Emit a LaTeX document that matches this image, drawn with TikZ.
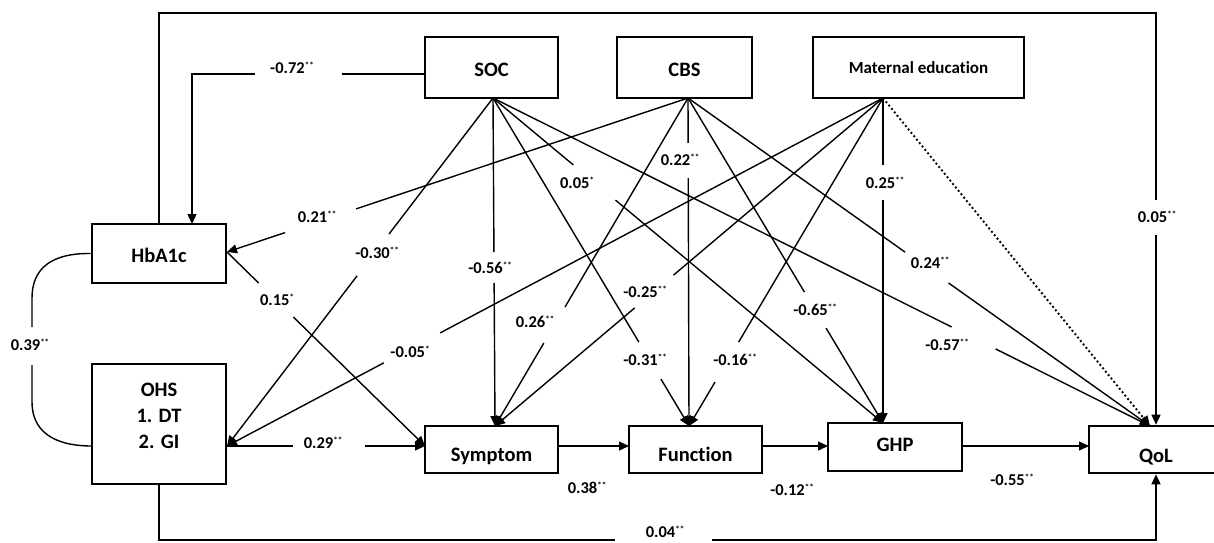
\documentclass[tikz,border=0pt]{standalone}
\usepackage{fontspec}
\setmainfont{Carlito}[Ligatures=NoCommon]
\usetikzlibrary{calc,arrows.meta}
\newcommand\sg[1]{\raisebox{5pt}{\fontsize{9}{9}\selectfont #1}}
\newcommand\gline[5]{\draw[conn] (#2) -- ($(#2)!#4!(#3)$); \draw[#1] ($(#2)!#5!(#3)$) -- (#3);}
\tikzset{
  box/.style={draw, line width=2.6pt, inner sep=0pt, font=\fontsize{20.5}{25.5}\selectfont\bfseries, align=center},
  tsh/.style={text height=#1, text depth=0pt},
  conn/.style={line width=1.4pt},
  arr/.style={conn, -{Triangle[length=10pt,width=9pt]}},
  dotarr/.style={line width=1.9pt, dash pattern=on 1.9pt off 2.5pt, -{Triangle[length=10pt,width=9pt]}},
  lab/.style={inner sep=0pt, font=\fontsize{16.5}{18}\selectfont\bfseries},
  boxtext/.style={inner sep=0pt, font=\fontsize{20.5}{25.75}\selectfont\bfseries, align=center}
}
\begin{document}
\begin{tikzpicture}[x=1pt,y=-1pt]
\path[use as bounding box, fill=white] (0,0) rectangle (1214,542);
% boxes
\node[box, tsh=18.2pt, minimum width=133pt, minimum height=61pt] (soc) at (491.5,67.5) {SOC};
\node[box, tsh=18.2pt, minimum width=135pt, minimum height=61pt] (cbs) at (684.5,67.5) {CBS};
\node[box, tsh=11pt, minimum width=211pt, minimum height=61pt, font=\fontsize{17}{20}\selectfont\bfseries] (mat) at (918.5,67.5) {Maternal education};
\node[box, tsh=18.2pt, minimum width=134pt, minimum height=59pt] (hb) at (159,253.5) {HbA1c};
\node[box, minimum width=134pt, minimum height=120pt] (ohs) at (159,424) {};
\node[boxtext] (ohsT) at (159,416) {OHS\\1. DT\\2. GI};
\node[box, tsh=24.2pt, minimum width=133pt, minimum height=47pt] (sym) at (491.5,449.5) {Symptom};
\node[box, tsh=24.2pt, minimum width=133pt, minimum height=47pt] (fun) at (695.5,449.5) {Function};
\node[box, tsh=9.2pt, minimum width=134pt, minimum height=48pt] (ghp) at (895,447) {GHP};
\node[box, tsh=25pt, minimum width=134pt, minimum height=47pt] (qol) at (1156,449.5) {QoL};
% attachment points
\coordinate (socB) at (493,98);
\coordinate (cbsB) at (688,98);
\coordinate (matB) at (883,98);
\coordinate (socW) at (425,74);
\coordinate (hbR) at (227,252);
\coordinate (ohsR) at (227,446);
\coordinate (ohsW) at (92,446);
\coordinate (symT) at (495,426);
\coordinate (symL) at (425,446);
\coordinate (symR) at (558,446);
\coordinate (funT) at (689,426);
\coordinate (funL) at (629,446);
\coordinate (funR) at (762,446);
\coordinate (ghpT) at (883,423);
\coordinate (ghpL) at (828,446);
\coordinate (ghpR) at (962,446);
\coordinate (qolT) at (1150,426);
\coordinate (qolL) at (1089,446);
% top loop
\draw[conn] (hb.north) -- (159,13) -- (1156,13) -- (1156,200);
\draw[arr] (1156,235) -- (qol.north);
\node[lab] (l005b) at (1157,217) {0.05\sg{**}};
% bottom loop
\draw[conn] (ohs.south) -- (159,540) -- (615,540);
\draw[arr] (712,540) -- (1156,540) -- (qol.south);
\node[lab] (l004) at (665,532) {0.04\sg{**}};
% SOC -> HbA1c
\draw[conn] (socW) -- (342,74);
\draw[arr] (255,74) -- (192,74) -- (192,224);
\node[lab] (l072) at (292,68) {-0.72\sg{**}};
% HbA1c -- OHS correlation
\draw[conn] (hb.west) .. controls (52,253) and (32,268) .. (32,298) -- (32,327);
\draw[conn] (32,365) -- (32,402) .. controls (32,430) and (52,446) .. (ohsW);
\node[lab] (l039) at (30,345) {0.39\sg{**}};
% SOC paths
\gline{arr}{socB}{ohsR}{0.391}{0.511}
\node[lab] (l030) at (377,253) {-0.30\sg{**}};
\gline{arr}{socB}{symT}{0.470}{0.564}
\node[lab] (l056) at (490,268) {-0.56\sg{**}};
\gline{arr}{socB}{funT}{0.744}{0.857}
\node[lab] (l031) at (645,360) {-0.31\sg{**}};
\gline{arr}{socB}{ghpT}{0.206}{0.314}
\node[lab] (l005a) at (577,183) {0.05\sg{*}};
\gline{arr}{socB}{qolT}{0.698}{0.765}
\node[lab] (l057) at (947,345) {-0.57\sg{**}};
% CBS paths
\gline{arr}{cbsB}{hbR}{0.720}{0.874}
\node[lab] (l021) at (317,217) {0.21\sg{**}};
\gline{arr}{cbsB}{funT}{0.137}{0.244}
\node[lab] (l022) at (680,160) {0.22\sg{**}};
\gline{arr}{cbsB}{symT}{0.637}{0.747}
\node[lab] (l026) at (535,322) {0.26\sg{**}};
\gline{arr}{cbsB}{ghpT}{0.597}{0.708}
\node[lab] (l065) at (815,310) {-0.65\sg{**}};
\gline{arr}{cbsB}{qolT}{0.470}{0.564}
\node[lab] (l024) at (930,263) {0.24\sg{**}};
% Maternal education paths
\gline{arr}{matB}{ohsR}{0.675}{0.761}
\node[lab] (l005c) at (410,352) {-0.05\sg{*}};
\gline{arr}{matB}{symT}{0.540}{0.640}
\node[lab] (l025a) at (645,292) {-0.25\sg{**}};
\gline{arr}{matB}{funT}{0.744}{0.866}
\node[lab] (l016) at (735,360) {-0.16\sg{**}};
\gline{arr}{matB}{ghpT}{0.206}{0.314}
\node[lab] (l025b) at (885,183) {0.25\sg{**}};
\draw[dotarr] (matB) -- (qolT);
% HbA1c -> Symptom
\gline{arr}{hbR}{symL}{0.160}{0.335}
\node[lab] (l015) at (277,300) {0.15\sg{*}};
% chain
\gline{arr}{ohsR}{symL}{0.333}{0.697}
\node[lab] (l029) at (323,443) {0.29\sg{**}};
\draw[arr] (symR) -- (funL);
\node[lab] (l038) at (587,488) {0.38\sg{**}};
\draw[arr] (funR) -- (ghpL);
\node[lab] (l012) at (792,490) {-0.12\sg{**}};
\draw[arr] (ghpR) -- (qolL);
\node[lab] (l055) at (1012,480) {-0.55\sg{**}};
\end{tikzpicture}
\end{document}
